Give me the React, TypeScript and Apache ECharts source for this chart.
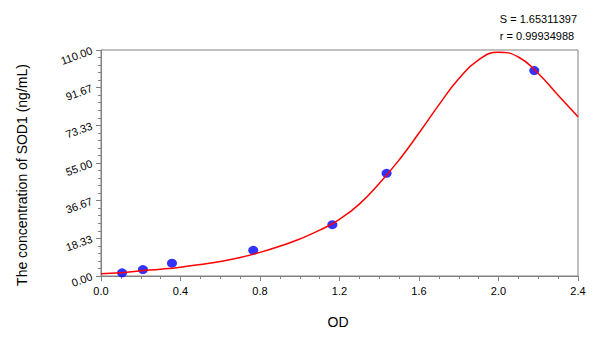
import React, { useEffect, useRef } from "react";
import * as echarts from "echarts";

const stdOD = [0.106, 0.211, 0.357, 0.766, 1.164, 1.437, 2.18];
const stdConc = [1.56, 3.13, 6.25, 12.5, 25, 50, 100];

const curveOD = [0.0, 0.1, 0.2, 0.3, 0.4, 0.5, 0.6, 0.7, 0.8, 0.9, 1.0, 1.1, 1.2, 1.3, 1.4, 1.5, 1.6, 1.7, 1.8, 1.9, 2.0, 2.1, 2.2, 2.3, 2.4];
const curveConc = [1.1, 1.6, 2.5, 3.3, 4.3, 5.6, 7.1, 9.0, 11.5, 14.5, 18.0, 22.3, 27.6, 35.0, 45.0, 56.5, 69.6, 83.3, 96.0, 105.2, 108.9, 106.6, 98.6, 88.0, 77.5];

const statLines = ["S = 1.65311397", "r = 0.99934988"];
const xTitle = "OD";
const yTitle = "The concentration of SOD1 (ng/mL)";

const FONT = "'Liberation Sans', Arial, sans-serif";

export default function App() {
  const ref = useRef<HTMLDivElement>(null);
  useEffect(() => {
    if (!ref.current) return;
    const chart = echarts.init(ref.current, null, { renderer: "svg" });
    chart.setOption({
      animation: false,
      backgroundColor: "#ffffff",
      textStyle: { fontFamily: FONT },
      grid: {
        left: 101,
        right: 22,
        top: 50,
        bottom: 61,
        show: true,
        borderColor: "#808080",
        borderWidth: 1,
      },
      xAxis: {
        type: "value",
        min: 0,
        max: 2.4,
        interval: 0.4,
        axisLine: { show: true, lineStyle: { color: "#808080" } },
        axisTick: { show: true, length: 5, lineStyle: { color: "#808080" } },
        minorTick: { show: true, splitNumber: 4, length: 3, lineStyle: { color: "#808080" } },
        splitLine: { show: false },
        axisLabel: {
          color: "#000",
          fontSize: 11,
          margin: 9,
          fontFamily: FONT,
          formatter: (v: number) => v.toFixed(1),
        },
      },
      yAxis: {
        type: "value",
        min: 0,
        max: 110,
        interval: 110 / 6,
        axisLine: { show: true, lineStyle: { color: "#808080" } },
        axisTick: { show: true, length: 5, lineStyle: { color: "#808080" } },
        minorTick: { show: true, splitNumber: 5, length: 3, lineStyle: { color: "#808080" } },
        splitLine: { show: false },
        axisLabel: {
          color: "#000",
          fontSize: 11,
          margin: 9,
          rotate: 20,
          fontFamily: FONT,
          formatter: (v: number) => v.toFixed(2),
        },
      },
      graphic: [
        {
          type: "text",
          right: 23,
          top: 10,
          style: {
            text: statLines.join("\n"),
            fill: "#000",
            font: `11px ${FONT}`,
            align: "right",
            lineHeight: 17,
          },
        },
        {
          type: "text",
          x: 338,
          y: 322,
          style: {
            text: xTitle,
            fill: "#000",
            font: `14px ${FONT}`,
            align: "center",
            verticalAlign: "middle",
          },
        },
        {
          type: "text",
          x: 22,
          y: 175,
          rotation: Math.PI / 2,
          style: {
            text: yTitle,
            fill: "#000",
            font: `14px ${FONT}`,
            align: "center",
            verticalAlign: "middle",
          },
        },
      ],
      series: [
        {
          type: "scatter",
          data: stdOD.map((x, i) => [x, stdConc[i]]),
          symbol: "circle",
          symbolSize: [10, 9],
          itemStyle: { color: "#0000ff" },
          z: 2,
        },
        {
          type: "line",
          data: curveOD.map((x, i) => [x, curveConc[i]]),
          smooth: true,
          showSymbol: false,
          lineStyle: { color: "#ff0000", width: 1.5 },
          z: 3,
        },
      ],
    });
    return () => chart.dispose();
  }, []);
  return (
    <div
      ref={ref}
      style={{ position: "fixed", left: 0, top: 0, width: 600, height: 337 }}
    />
  );
}
